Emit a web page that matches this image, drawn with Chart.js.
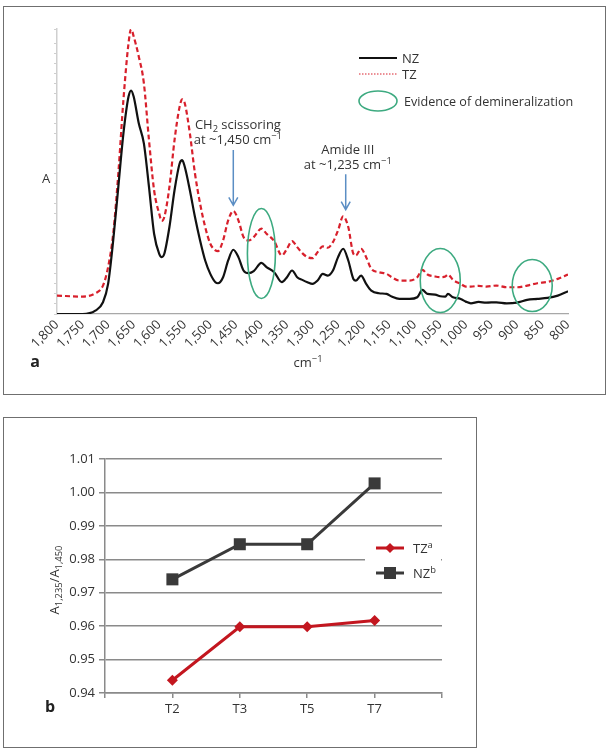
<!DOCTYPE html>
<html>
<head>
<meta charset="utf-8">
<script src="https://cdn.jsdelivr.net/npm/chart.js@4.4.0/dist/chart.umd.min.js"></script>
<style>
  body { margin: 0; background: #fff; width: 610px; height: 750px; position: relative; overflow: hidden; }
  .frame { position: absolute; box-sizing: border-box; border: 1.5px solid #6f6f6f; }
  #frameA { left: 3px; top: 6px; width: 603px; height: 389px; }
  #frameB { left: 3px; top: 417px; width: 474px; height: 331px; }
  canvas { position: absolute; left: 0; }
  #chartA { top: 0; }
  #chartB { top: 400px; }
</style>
</head>
<body>
<div class="frame" id="frameA"></div>
<div class="frame" id="frameB"></div>
<canvas id="chartA" width="610" height="400"></canvas>
<canvas id="chartB" width="480" height="350"></canvas>
<script>
'use strict';

// Panel a: spectra, wavenumber (cm-1) vs absorbance (arbitrary units)
var wavenumbers = [
  1800, 1750, 1725, 1710, 1700, 1690, 1680, 1670, 1660, 1655,
  1650, 1640, 1630, 1620, 1610, 1600, 1595, 1590, 1580, 1570,
  1560, 1555, 1550, 1540, 1530, 1520, 1510, 1500, 1490, 1485,
  1475, 1465, 1455, 1445, 1435, 1425, 1415, 1400, 1390, 1375,
  1360, 1350, 1340, 1330, 1320, 1310, 1300, 1290, 1280, 1270,
  1260, 1250, 1240, 1230, 1220, 1215, 1205, 1195, 1185, 1170,
  1155, 1145, 1130, 1110, 1095, 1085, 1075, 1060, 1050, 1040,
  1035, 1025, 1010, 1000, 990, 975, 960, 940, 920, 900,
  880, 860, 840, 820, 800
];
var nzAbsorbance = [
  0.000, 0.000, 0.010, 0.035, 0.090, 0.220, 0.380, 0.540, 0.650, 0.668,
  0.650, 0.570, 0.510, 0.380, 0.240, 0.180, 0.170, 0.180, 0.260, 0.370,
  0.450, 0.460, 0.440, 0.370, 0.290, 0.220, 0.160, 0.120, 0.095, 0.092,
  0.110, 0.160, 0.192, 0.170, 0.130, 0.122, 0.128, 0.153, 0.140, 0.125,
  0.095, 0.110, 0.130, 0.110, 0.102, 0.095, 0.090, 0.100, 0.120, 0.115,
  0.130, 0.170, 0.195, 0.160, 0.105, 0.100, 0.115, 0.090, 0.070, 0.062,
  0.060, 0.052, 0.045, 0.045, 0.050, 0.072, 0.060, 0.058, 0.053, 0.052,
  0.060, 0.050, 0.045, 0.037, 0.032, 0.036, 0.034, 0.035, 0.032, 0.034,
  0.042, 0.045, 0.048, 0.055, 0.068
];
var tzAbsorbance = [
  0.055, 0.052, 0.062, 0.085, 0.140, 0.240, 0.420, 0.640, 0.810, 0.852,
  0.830, 0.770, 0.690, 0.520, 0.370, 0.300, 0.278, 0.290, 0.380, 0.520,
  0.620, 0.642, 0.630, 0.540, 0.420, 0.330, 0.260, 0.210, 0.190, 0.188,
  0.220, 0.280, 0.308, 0.280, 0.230, 0.220, 0.230, 0.255, 0.240, 0.218,
  0.175, 0.195, 0.218, 0.200, 0.182, 0.170, 0.167, 0.185, 0.202, 0.198,
  0.215, 0.250, 0.292, 0.260, 0.180, 0.175, 0.195, 0.170, 0.135, 0.125,
  0.120, 0.110, 0.100, 0.100, 0.110, 0.132, 0.118, 0.112, 0.110, 0.112,
  0.118, 0.102, 0.090, 0.082, 0.082, 0.084, 0.082, 0.085, 0.080, 0.080,
  0.085, 0.092, 0.096, 0.105, 0.118
];

// Panel b: A1235/A1450 ratio per time point
var timePoints = ['T2', 'T3', 'T5', 'T7'];
var tzRatio = [0.9438, 0.9598, 0.9598, 0.9617];
var nzRatio = [0.9740, 0.9845, 0.9845, 1.0027];

var FONT = '"Open Sans", "Noto Sans", sans-serif';
var TEXT = '#333';
var GREEN = '#3daa80';
var BLUE = '#5b8ec4';

// draws text made of parts: [string, mode] where mode is 0, 'sup' or 'sub'
function richText(ctx, parts, x, y, size, align, color) {
  ctx.save();
  ctx.fillStyle = color || TEXT;
  ctx.textBaseline = 'alphabetic';
  ctx.textAlign = 'left';
  var widths = parts.map(function (p) {
    ctx.font = (p[1] ? size * 0.72 : size) + 'px ' + FONT;
    return ctx.measureText(p[0]).width;
  });
  var total = widths.reduce(function (a, b) { return a + b; }, 0);
  var cx = x;
  if (align === 'center') cx = x - total / 2;
  if (align === 'right') cx = x - total;
  parts.forEach(function (p, i) {
    ctx.font = (p[1] ? size * 0.72 : size) + 'px ' + FONT;
    var dy = 0;
    if (p[1] === 'sup') dy = -size * 0.35;
    if (p[1] === 'sub') dy = size * 0.25;
    ctx.fillText(p[0], cx, y + dy);
    cx += widths[i];
  });
  ctx.restore();
}

function arrowDown(ctx, x, y1, y2) {
  ctx.save();
  ctx.strokeStyle = BLUE;
  ctx.lineWidth = 1.5;
  ctx.beginPath();
  ctx.moveTo(x, y1);
  ctx.lineTo(x, y2);
  ctx.moveTo(x - 4.5, y2 - 8);
  ctx.lineTo(x, y2);
  ctx.lineTo(x + 4.5, y2 - 8);
  ctx.stroke();
  ctx.restore();
}

function ellipse(ctx, x, y, rx, ry) {
  ctx.save();
  ctx.strokeStyle = GREEN;
  ctx.lineWidth = 1.6;
  ctx.beginPath();
  ctx.ellipse(x, y, rx, ry, 0, 0, Math.PI * 2);
  ctx.stroke();
  ctx.restore();
}

// annotations for panel a, anchored in data units
var bandNotes = [
  { arrowWn: 1455, arrowTop: 0.49, arrowTip: 0.325, textWn: 1446, textA: 0.553,
    lines: [[['CH', 0], ['2', 'sub'], [' scissoring', 0]], [['at ~1,450 cm', 0], ['\u22121', 'sup']]] },
  { arrowWn: 1235, arrowTop: 0.418, arrowTip: 0.312, textWn: 1231, textA: 0.478,
    lines: [[['Amide III', 0]], [['at ~1,235 cm', 0], ['\u22121', 'sup']]] }
];
var demineralRegions = [
  { wn: 1400, a: 0.181, rx: 14, ry: 45 },
  { wn: 1050, a: 0.100, rx: 20, ry: 32 },
  { wn: 870, a: 0.085, rx: 20, ry: 26 }
];

var panelAExtras = {
  id: 'panelAExtras',
  afterDraw: function (chart) {
    var ctx = chart.ctx;
    var xs = chart.scales.x;
    var ys = chart.scales.y;

    demineralRegions.forEach(function (r) {
      ellipse(ctx, xs.getPixelForValue(r.wn), ys.getPixelForValue(r.a), r.rx, r.ry);
    });

    bandNotes.forEach(function (n) {
      var ax = xs.getPixelForValue(n.arrowWn);
      arrowDown(ctx, ax, ys.getPixelForValue(n.arrowTop), ys.getPixelForValue(n.arrowTip));
      var tx = xs.getPixelForValue(n.textWn);
      var ty = ys.getPixelForValue(n.textA);
      n.lines.forEach(function (line, i) {
        richText(ctx, line, tx, ty + i * 14.5, 13, 'center');
      });
    });

    // legend
    ctx.save();
    ctx.strokeStyle = '#111';
    ctx.lineWidth = 2;
    ctx.beginPath();
    ctx.moveTo(359, 58);
    ctx.lineTo(397, 58);
    ctx.stroke();
    ctx.strokeStyle = '#d8202c';
    ctx.lineWidth = 1;
    ctx.setLineDash([1.5, 1.5]);
    ctx.beginPath();
    ctx.moveTo(359, 74);
    ctx.lineTo(397, 74);
    ctx.stroke();
    ctx.restore();
    ellipse(ctx, 378, 101, 19, 10);
    richText(ctx, [['NZ', 0]], 402, 63, 13, 'left');
    richText(ctx, [['TZ', 0]], 402, 79, 13, 'left');
    richText(ctx, [['Evidence of demineralization', 0]], 404, 106, 12.6, 'left');

    // axis titles and panel letter
    richText(ctx, [['A', 0]], 46, 183, 13, 'center');
    richText(ctx, [['cm', 0], ['\u22121', 'sup']], 308, 367, 13, 'center');
    ctx.save();
    ctx.font = 'bold 16px ' + FONT;
    ctx.fillStyle = '#222';
    ctx.textAlign = 'center';
    ctx.textBaseline = 'middle';
    ctx.fillText('a', 35, 362);
    ctx.restore();
  }
};

function toPoints(xs, ys) {
  return xs.map(function (x, i) { return { x: x, y: ys[i] }; });
}

var chartA = new Chart(document.getElementById('chartA').getContext('2d'), {
  type: 'line',
  data: {
    datasets: [
      {
        label: 'NZ',
        data: toPoints(wavenumbers, nzAbsorbance),
        borderColor: '#111',
        borderWidth: 2.2,
        pointRadius: 0,
        cubicInterpolationMode: 'monotone',
        fill: false
      },
      {
        label: 'TZ',
        data: toPoints(wavenumbers, tzAbsorbance),
        borderColor: '#d8202c',
        borderWidth: 2.2,
        borderDash: [5, 3],
        pointRadius: 0,
        cubicInterpolationMode: 'monotone',
        fill: false
      }
    ]
  },
  options: {
    responsive: false,
    animation: false,
    layout: { padding: { left: 0, top: 29, right: 42, bottom: 0 } },
    plugins: { legend: { display: false }, tooltip: { enabled: false } },
    scales: {
      x: {
        type: 'linear',
        reverse: true,
        min: 800,
        max: 1800,
        grid: { display: false, drawTicks: false },
        border: { display: true, color: '#a8a8a8', width: 1.2 },
        ticks: {
          stepSize: 50,
          autoSkip: false,
          minRotation: 45,
          maxRotation: 45,
          padding: 3,
          color: TEXT,
          font: { family: FONT, size: 13 },
          callback: function (v) { return v.toLocaleString('en-US'); }
        },
        afterFit: function (s) { s.height = 86; }
      },
      y: {
        min: 0,
        max: 0.852,
        grid: { drawOnChartArea: false, tickLength: 3, color: '#cfcfcf' },
        border: { display: true, color: '#cfcfcf', width: 1.5 },
        ticks: { display: false, stepSize: 0.03 },
        afterFit: function (s) { s.width = 57; }
      }
    }
  },
  plugins: [panelAExtras]
});

var panelBExtras = {
  id: 'panelBExtras',
  afterDraw: function (chart) {
    var ctx = chart.ctx;

    // legend box hides the grid line behind it
    ctx.save();
    ctx.fillStyle = '#fff';
    ctx.fillRect(365, 136, 76, 50);
    ctx.lineWidth = 3;
    ctx.strokeStyle = '#c3161f';
    ctx.beginPath();
    ctx.moveTo(376, 148);
    ctx.lineTo(404, 148);
    ctx.stroke();
    ctx.fillStyle = '#c3161f';
    ctx.beginPath();
    ctx.moveTo(390, 143);
    ctx.lineTo(395, 148);
    ctx.lineTo(390, 153);
    ctx.lineTo(385, 148);
    ctx.closePath();
    ctx.fill();
    ctx.strokeStyle = '#3a3a3a';
    ctx.beginPath();
    ctx.moveTo(376, 173);
    ctx.lineTo(404, 173);
    ctx.stroke();
    ctx.fillStyle = '#3a3a3a';
    ctx.fillRect(384, 167, 12, 12);
    ctx.restore();
    richText(ctx, [['TZ', 0], ['a', 'sup']], 413, 153, 13, 'left');
    richText(ctx, [['NZ', 0], ['b', 'sup']], 413, 178, 13, 'left');

    // rotated y title
    ctx.save();
    ctx.translate(59, 180);
    ctx.rotate(-Math.PI / 2);
    richText(ctx, [['A', 0], ['1,235', 'sub'], ['/A', 0], ['1,450', 'sub']], 0, 0, 13, 'center');
    ctx.restore();

    ctx.save();
    ctx.font = 'bold 16px ' + FONT;
    ctx.fillStyle = '#222';
    ctx.textAlign = 'center';
    ctx.textBaseline = 'middle';
    ctx.fillText('b', 50, 307);
    ctx.restore();
  }
};

var chartB = new Chart(document.getElementById('chartB').getContext('2d'), {
  type: 'line',
  data: {
    datasets: [
      {
        label: 'TZ',
        data: toPoints([1, 2, 3, 4], tzRatio),
        borderColor: '#c3161f',
        backgroundColor: '#c3161f',
        borderWidth: 3,
        pointStyle: 'rectRot',
        pointRadius: 5.5,
        pointBorderWidth: 0,
        tension: 0
      },
      {
        label: 'NZ',
        data: toPoints([1, 2, 3, 4], nzRatio),
        borderColor: '#3a3a3a',
        backgroundColor: '#3a3a3a',
        borderWidth: 3,
        pointStyle: 'rect',
        pointRadius: 8.5,
        pointBorderWidth: 0,
        tension: 0
      }
    ]
  },
  options: {
    responsive: false,
    animation: false,
    layout: { padding: { left: 0, top: 59, right: 38, bottom: 0 } },
    plugins: { legend: { display: false }, tooltip: { enabled: false } },
    scales: {
      x: {
        type: 'linear',
        min: 0,
        max: 5,
        grid: { drawOnChartArea: false, tickLength: 5, color: '#8a8a8a', lineWidth: 1.5 },
        border: { display: true, color: '#8a8a8a', width: 1.5 },
        ticks: {
          stepSize: 1,
          autoSkip: false,
          maxRotation: 0,
          padding: 3,
          color: TEXT,
          font: { family: FONT, size: 13 },
          callback: function (v) { return timePoints[v - 1] || ''; }
        },
        afterFit: function (s) { s.height = 57; }
      },
      y: {
        min: 0.94,
        max: 1.01,
        grid: { color: '#8a8a8a', lineWidth: 1.5, tickLength: 6 },
        border: { display: true, color: '#8a8a8a', width: 1.5 },
        ticks: {
          stepSize: 0.01,
          padding: 4,
          color: TEXT,
          font: { family: FONT, size: 13 },
          callback: function (v) { return v.toFixed(2); }
        },
        afterFit: function (s) { s.width = 105; }
      }
    }
  },
  plugins: [panelBExtras]
});
</script>
</body>
</html>
